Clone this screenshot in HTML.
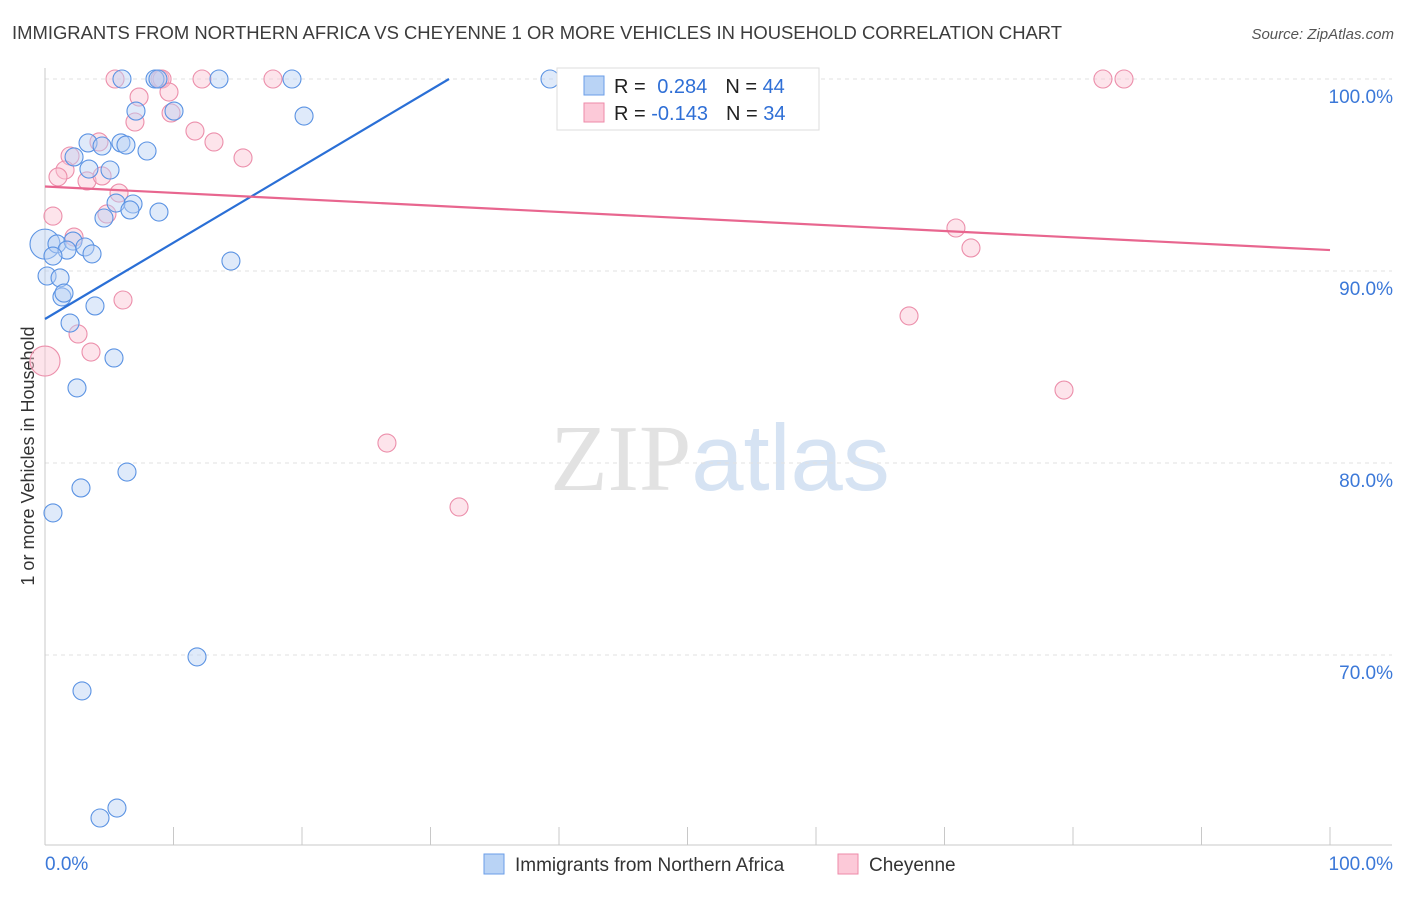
<!DOCTYPE html>
<html><head><meta charset="utf-8"><style>
body{margin:0;background:#fff;width:1406px;height:892px;overflow:hidden;font-family:"Liberation Sans",sans-serif}
svg text{font-family:"Liberation Sans",sans-serif}
</style></head><body>
<svg id="chart" width="1406" height="892" xmlns="http://www.w3.org/2000/svg">
<text x="12" y="39" font-size="18.45" fill="#3c3c3c">IMMIGRANTS FROM NORTHERN AFRICA VS CHEYENNE 1 OR MORE VEHICLES IN HOUSEHOLD CORRELATION CHART</text>
<text x="1394" y="39" font-size="15" fill="#555" text-anchor="end" font-style="italic">Source: ZipAtlas.com</text>
<text x="720" y="490" font-size="94" text-anchor="middle"><tspan fill="#e2e2e2" font-family="Liberation Serif">ZIP</tspan><tspan fill="#d6e3f3">atlas</tspan></text>
<text transform="translate(34,456) rotate(-90)" font-size="18" fill="#333" text-anchor="middle">1 or more Vehicles in Household</text>
<g id="grid"></g><g id="axes"></g><g id="points"></g><g id="trends"></g>
<g>
<rect x="557" y="68" width="262" height="62" fill="#fff" stroke="#ddd"/>
<rect x="584" y="76" width="20" height="19" fill="#b9d3f5" stroke="#6a9ee8"/>
<rect x="584" y="103" width="20" height="19" fill="#fcc9d8" stroke="#ee8aa8"/>
<text x="614" y="93" font-size="20" fill="#222">R = <tspan fill="#2f6fd6" dx="6">0.284</tspan><tspan fill="#222" dx="18">N = </tspan><tspan fill="#2f6fd6">44</tspan></text>
<text x="614" y="120" font-size="20" fill="#222">R = <tspan fill="#2f6fd6">-0.143</tspan><tspan fill="#222" dx="18">N = </tspan><tspan fill="#2f6fd6">34</tspan></text>
</g>
<g>
<rect x="484" y="854" width="20" height="20" fill="#b9d3f5" stroke="#6a9ee8"/>
<text x="515" y="871" font-size="19" fill="#333">Immigrants from Northern Africa</text>
<rect x="838" y="854" width="20" height="20" fill="#fcc9d8" stroke="#ee8aa8"/>
<text x="869" y="871" font-size="19" fill="#333">Cheyenne</text>
</g>
</svg>
<script>
const blueX=[5.99,8.56,8.79,13.54,19.22,39.3,7.08,10.04,20.16,3.35,4.44,5.91,6.30,7.94,2.26,3.42,5.06,5.53,6.85,6.61,8.87,4.59,0,0.93,2.18,3.11,3.66,1.71,0.62,14.47,0.16,1.17,1.32,1.48,3.89,1.95,5.37,2.49,6.38,2.80,0.62,11.83,2.88,5.60,4.28];
const blueY=[100,100,100,100,100,100,98.33,98.33,98.07,96.67,96.51,96.67,96.56,96.25,95.94,95.31,95.26,93.54,93.49,93.18,93.07,92.76,91.4,91.41,91.56,91.25,90.89,91.09,90.78,90.52,89.74,89.64,88.65,88.85,88.18,87.29,85.47,83.91,79.53,78.70,77.40,69.90,68.13,62.03,61.51];
const pinkX=[5.45,8.95,9.11,12.22,17.74,82.33,83.97,7.32,9.65,9.81,7.00,11.67,13.15,15.41,4.20,1.95,1.56,1.01,3.27,4.44,5.76,4.82,0.62,2.26,6.07,2.57,3.58,0,70.89,72.06,67.24,79.30,26.61,32.22];
const pinkY=[100,100,100,100,100,100,100,99.06,99.32,98.23,97.76,97.29,96.72,95.89,96.72,95.99,95.26,94.90,94.69,94.95,94.06,92.97,92.86,91.77,88.49,86.72,85.78,85.31,92.24,91.20,87.66,83.80,81.04,77.71];
const blueTrendX=[0,31.44], blueTrendY=[87.5,100];
const pinkTrendX=[0,100], pinkTrendY=[94.4,91.09];
const yTicks=[100,90,80,70];
const yTickLabels=["100.0%","90.0%","80.0%","70.0%"];
const xTicks=[0,10,20,30,40,50,60,70,80,90,100];
const NS="http://www.w3.org/2000/svg";
const sx=v=>45+v*12.85, sy=v=>79+(100-v)*19.2;
function mk(tag,attrs,parent){const e=document.createElementNS(NS,tag);for(const k in attrs)e.setAttribute(k,attrs[k]);document.getElementById(parent).appendChild(e);return e;}
yTicks.forEach((t,i)=>{
 const g=mk('line',{x1:45,x2:1392,y1:sy(t),y2:sy(t),stroke:'#e2e2e2','stroke-dasharray':'4,4'},'grid');
 
 
 const l=mk('text',{x:1393,y:sy(t)+24,'font-size':19,fill:'#3b78d8','text-anchor':'end'},'axes');l.textContent=yTickLabels[i];
 
 
});
const ax=mk('line',{x1:45,x2:45,y1:68,y2:845,stroke:'#c8c8c8'},'axes');


const bx=mk('line',{x1:45,x2:1392,y1:845,y2:845,stroke:'#c8c8c8'},'axes');


xTicks.forEach(t=>{const l=mk('line',{x1:sx(t),x2:sx(t),y1:827,y2:845,stroke:'#c8c8c8'},'axes');
 
 });
const x0=mk('text',{x:45,y:870,'font-size':19,fill:'#3b78d8'},'axes');x0.textContent='0.0%';


const x1=mk('text',{x:1393,y:870,'font-size':19,fill:'#3b78d8','text-anchor':'end'},'axes');x1.textContent='100.0%';


function pts(X,Y,fill,stroke,name,big){X.forEach((x,i)=>{
 const r=(x===0&&i===big)?15:9;
 const c=mk('circle',{cx:sx(x),cy:sy(Y[i]),r:r,fill:fill,'fill-opacity':0.45,stroke:stroke,'stroke-width':1.1},'points');
 
 });}
pts(pinkX,pinkY,'#fbc3d3','#ec8fab','cheyenne-point',27);
pts(blueX,blueY,'#b7d1f3','#5b93e3','immigrants-point',22);
const bt=mk('line',{x1:sx(blueTrendX[0]),y1:sy(blueTrendY[0]),x2:sx(blueTrendX[1]),y2:sy(blueTrendY[1]),stroke:'#2a6fd6','stroke-width':2.2},'trends');


const pt=mk('line',{x1:sx(pinkTrendX[0]),y1:sy(pinkTrendY[0]),x2:sx(pinkTrendX[1]),y2:sy(pinkTrendY[1]),stroke:'#e8668f','stroke-width':2.2},'trends');


</script>
</body></html>
